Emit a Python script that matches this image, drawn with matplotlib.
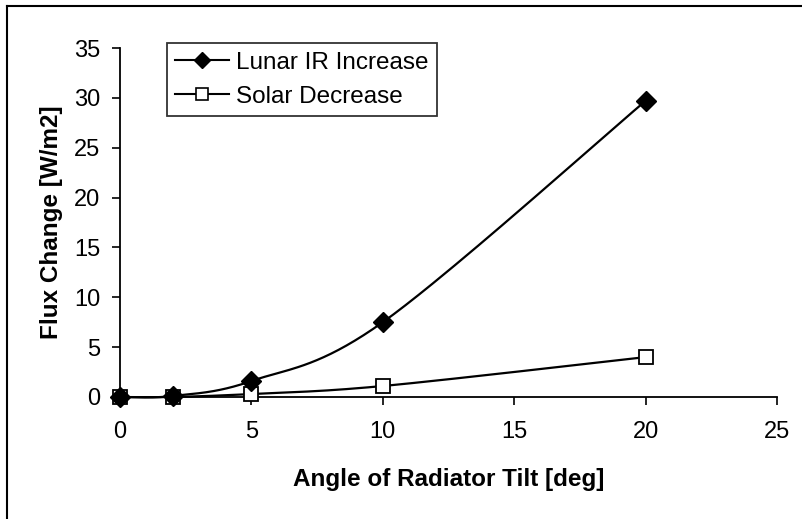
import numpy as np
import matplotlib
matplotlib.use("Agg")
import matplotlib.pyplot as plt
from matplotlib.lines import Line2D

tilt = [0, 2, 5, 10, 20]
lunar_ir = [0.0, 0.1, 1.6, 7.5, 29.7]
solar = [0.0, 0.0, 0.3, 1.1, 4.0]
x_ticks = [0, 5, 10, 15, 20, 25]
y_ticks = [0, 5, 10, 15, 20, 25, 30, 35]


def smooth(x, y, n=40):
    # Catmull-Rom style smoothing, similar to Excel "smoothed line"
    x = np.asarray(x, float)
    y = np.asarray(y, float)
    px = np.concatenate([[x[0]], x, [x[-1]]])
    py = np.concatenate([[y[0]], y, [y[-1]]])
    xs, ys = [], []
    for i in range(1, len(px) - 2):
        p0, p1, p2, p3 = [np.array([px[j], py[j]]) for j in (i - 1, i, i + 1, i + 2)]
        c1 = p1 + (p2 - p0) / 6
        c2 = p2 - (p3 - p1) / 6
        t = np.linspace(0, 1, n)[:, None]
        b = ((1 - t) ** 3) * p1 + 3 * ((1 - t) ** 2) * t * c1 + 3 * (1 - t) * t ** 2 * c2 + t ** 3 * p2
        xs.append(b[:, 0])
        ys.append(b[:, 1])
    return np.concatenate(xs), np.concatenate(ys)


plt.rcParams["font.family"] = ["Liberation Sans", "DejaVu Sans"]

fig = plt.figure(figsize=(8.02, 5.19), dpi=100)
ax = fig.add_axes([0.1496, 0.2351, 0.8192, 0.6724])

sx, sy = smooth(tilt, lunar_ir)
ax.plot(sx, sy, color="black", lw=1.6, zorder=2, clip_on=False)
sx, sy = smooth(tilt, solar)
ax.plot(sx, sy, color="black", lw=1.6, zorder=2, clip_on=False)
ax.plot(tilt, solar, ls="none", marker="s", ms=9.5, mfc="white", mec="black", mew=1.3,
        zorder=4, clip_on=False)
ax.plot(tilt, lunar_ir, ls="none", marker="D", ms=10, color="black", zorder=5, clip_on=False)

ax.set_xlim(0, 25)
ax.set_ylim(0, 35)
ax.set_xticks(x_ticks)
ax.set_yticks(y_ticks)
ax.tick_params(labelsize=17, direction="out", length=6, width=1.2)
ax.tick_params(axis="y", pad=8)
ax.tick_params(axis="x", pad=11)
ax.spines["top"].set_visible(False)
ax.spines["right"].set_visible(False)
ax.spines["left"].set_linewidth(1.3)
ax.spines["bottom"].set_linewidth(1.3)
ax.set_xlabel("Angle of Radiator Tilt [deg]", fontsize=17.5, fontweight="bold", labelpad=18)
ax.set_ylabel("Flux Change [W/m2]", fontsize=17.5, fontweight="bold", labelpad=8)

handles = [
    Line2D([], [], color="black", lw=1.5, marker="D", ms=8),
    Line2D([], [], color="black", lw=1.5, marker="s", ms=8, mfc="white", mec="black", mew=1.2),
]
leg = ax.legend(handles, ["Lunar IR Increase", "Solar Decrease"], loc="upper left",
                bbox_to_anchor=(0.0715, 1.014), borderaxespad=0, fontsize=17.5,
                frameon=True, fancybox=False, edgecolor="black", borderpad=0.35,
                handlelength=2.2, handletextpad=0.3, labelspacing=0.5)
leg.get_frame().set_linewidth(1.3)

# chart area border (left and top visible in original)
fig.add_artist(Line2D([0.009, 0.009], [0, 0.988], color="black", lw=1.5, transform=fig.transFigure))
fig.add_artist(Line2D([0.009, 1.0], [0.988, 0.988], color="black", lw=1.5, transform=fig.transFigure))

fig.savefig("out.png", dpi=100)
